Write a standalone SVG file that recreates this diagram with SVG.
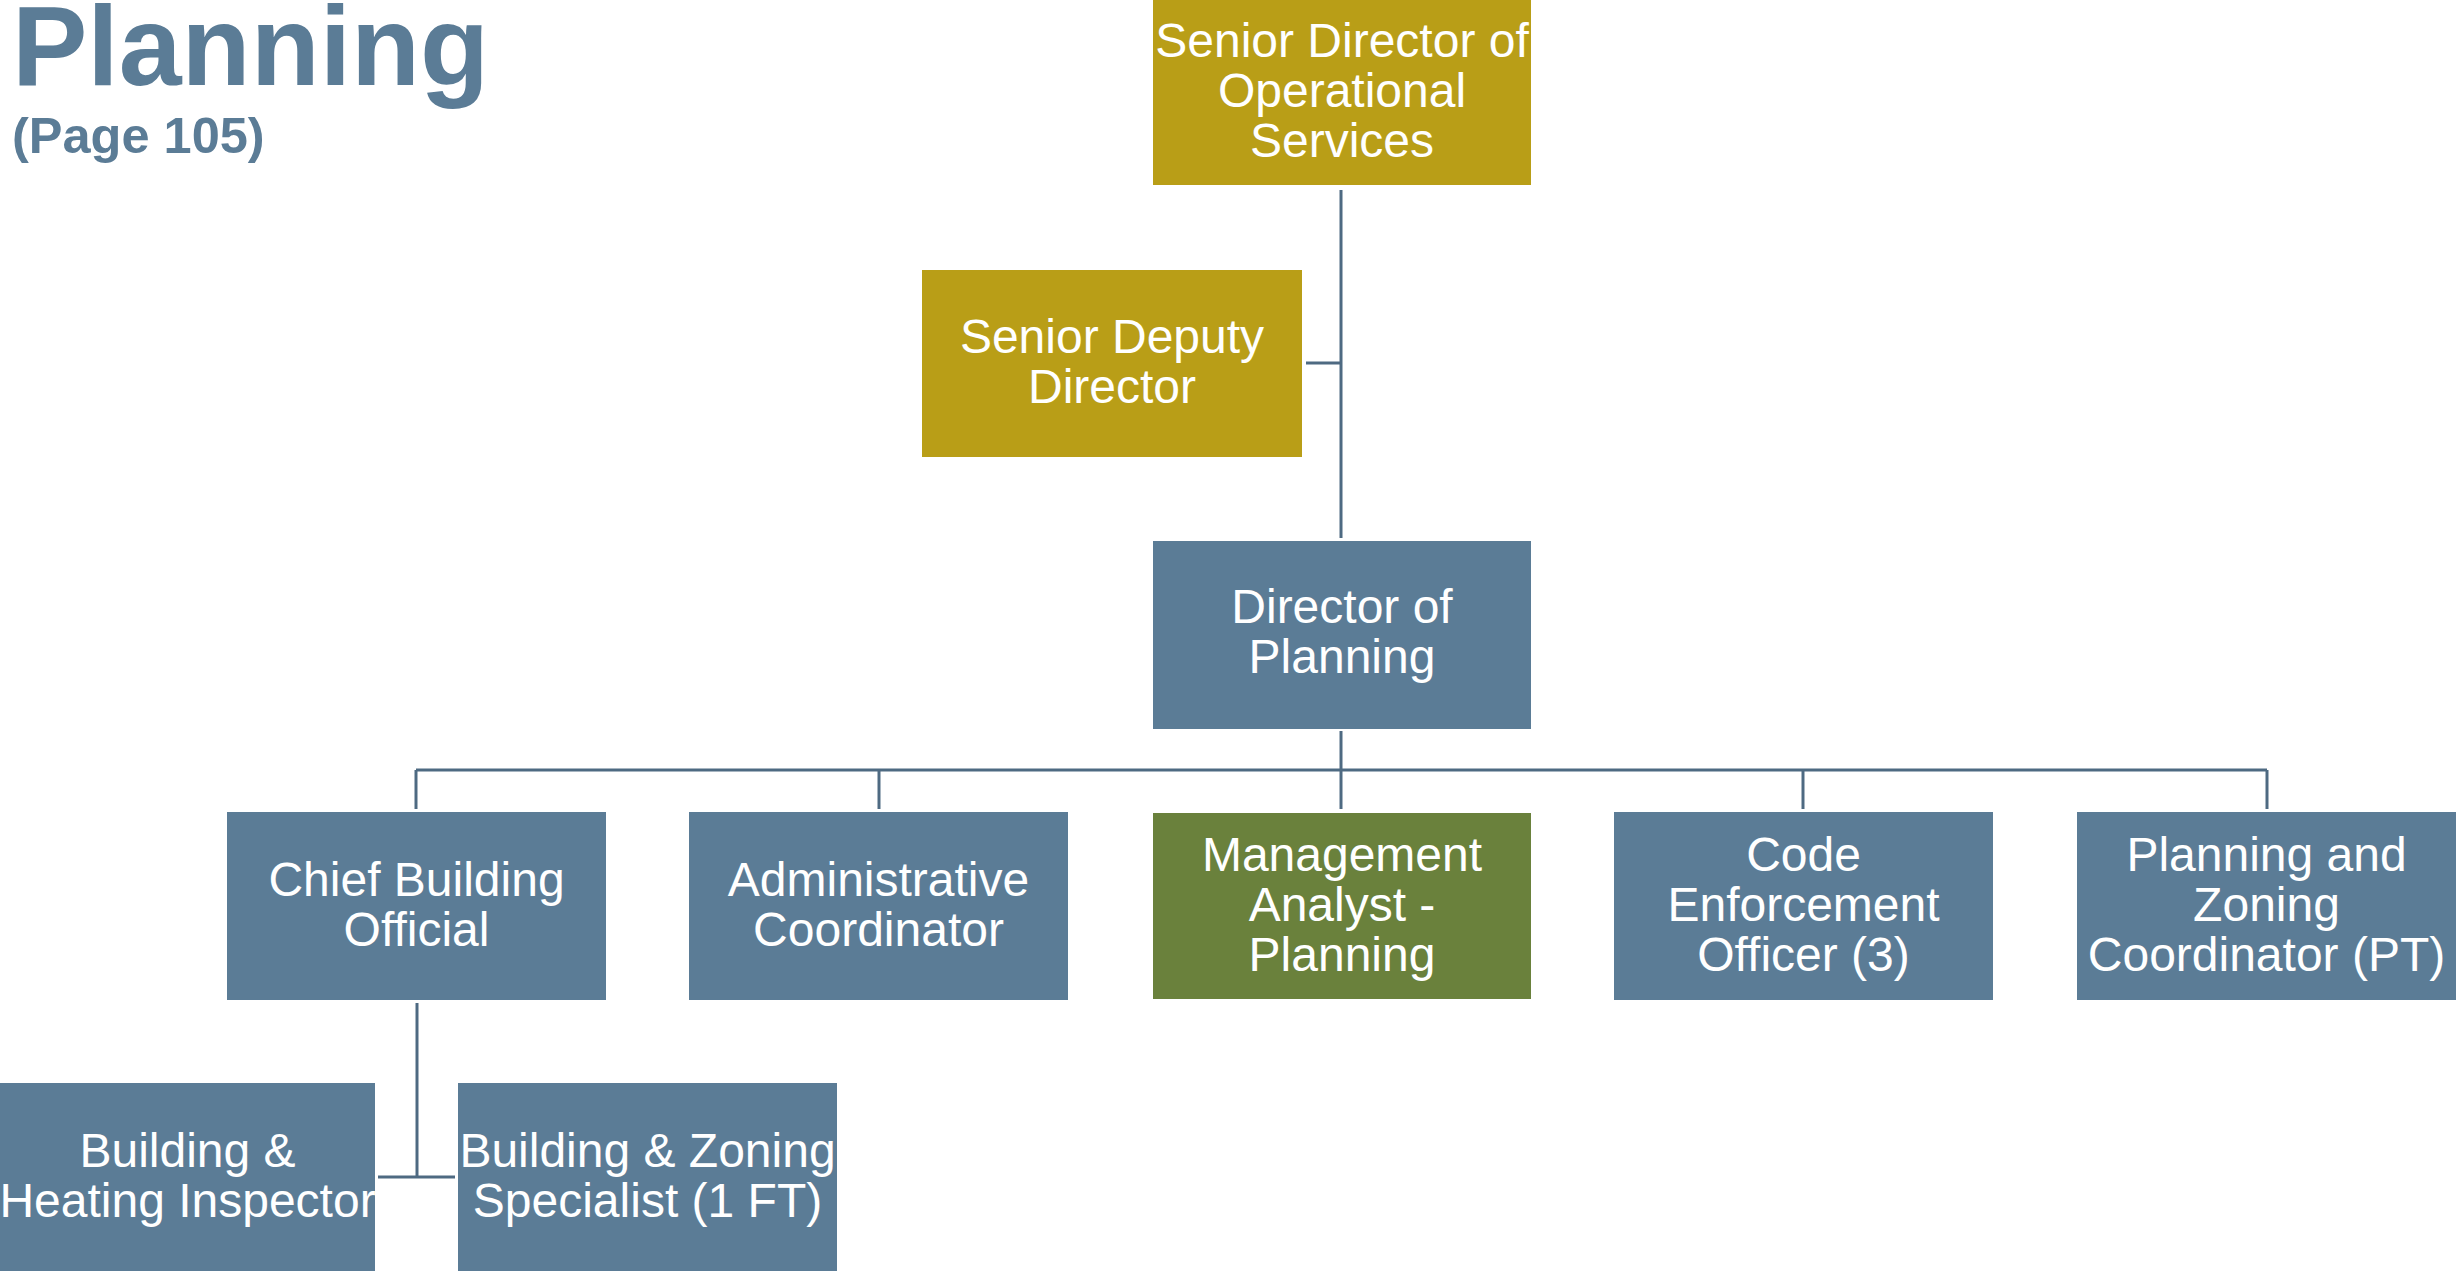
<svg xmlns="http://www.w3.org/2000/svg" width="2458" height="1274" viewBox="0 0 2458 1274">
<style>
.t{font-family:"Liberation Sans",Arial,sans-serif;font-size:48px;fill:#fff;text-anchor:middle}
.blue{fill:#5B7C96}
.gold{fill:#B99E17}
.green{fill:#6A813C}
.ttl{font-family:"Liberation Sans",Arial,sans-serif;font-weight:bold;fill:#5B7C96}
#connectors line{stroke:#4E6A82;stroke-width:3}
</style>
<rect width="2458" height="1274" fill="#fff"/>
<text class="ttl" x="12" y="85" font-size="113">Planning</text>
<text class="ttl" x="12" y="153" font-size="50.5">(Page 105)</text>
<g id="connectors">
<line x1="1341" y1="190" x2="1341" y2="538"/>
<line x1="1306" y1="363" x2="1341" y2="363"/>
<line x1="1341" y1="731" x2="1341" y2="770"/>
<line x1="416" y1="770" x2="2267" y2="770"/>
<line x1="416" y1="770" x2="416" y2="809"/>
<line x1="879" y1="770" x2="879" y2="809"/>
<line x1="1341" y1="770" x2="1341" y2="809"/>
<line x1="1803" y1="770" x2="1803" y2="809"/>
<line x1="2267" y1="770" x2="2267" y2="809"/>
<line x1="417" y1="1003" x2="417" y2="1177"/>
<line x1="378" y1="1177" x2="455" y2="1177"/>
</g>
<g id="n-senior-director"><rect class="gold" x="1153" y="0" width="378" height="185"/>
<text class="t" x="1342" y="57">Senior Director of</text><text class="t" x="1342" y="107">Operational</text><text class="t" x="1342" y="157">Services</text></g>
<g id="n-senior-deputy"><rect class="gold" x="922" y="270" width="380" height="187"/>
<text class="t" x="1112" y="353">Senior Deputy</text><text class="t" x="1112" y="403">Director</text></g>
<g id="n-director"><rect class="blue" x="1153" y="541" width="378" height="188"/>
<text class="t" x="1342" y="623">Director of</text><text class="t" x="1342" y="673">Planning</text></g>
<g id="n-chief"><rect class="blue" x="227" y="812" width="379" height="188"/>
<text class="t" x="416.5" y="896">Chief Building</text><text class="t" x="416.5" y="946">Official</text></g>
<g id="n-admin"><rect class="blue" x="689" y="812" width="379" height="188"/>
<text class="t" x="878.5" y="896">Administrative</text><text class="t" x="878.5" y="946">Coordinator</text></g>
<g id="n-mgmt"><rect class="green" x="1153" y="813" width="378" height="186"/>
<text class="t" x="1342" y="871">Management</text><text class="t" x="1342" y="921">Analyst -</text><text class="t" x="1342" y="971">Planning</text></g>
<g id="n-code"><rect class="blue" x="1614" y="812" width="379" height="188"/>
<text class="t" x="1803.5" y="871">Code</text><text class="t" x="1803.5" y="921">Enforcement</text><text class="t" x="1803.5" y="971">Officer (3)</text></g>
<g id="n-pz"><rect class="blue" x="2077" y="812" width="379" height="188"/>
<text class="t" x="2266.5" y="871">Planning and</text><text class="t" x="2266.5" y="921">Zoning</text><text class="t" x="2266.5" y="971">Coordinator (PT)</text></g>
<g id="n-inspector"><rect class="blue" x="0" y="1083" width="375" height="188"/>
<text class="t" x="187.5" y="1167">Building &amp;</text><text class="t" x="187.5" y="1217">Heating Inspector</text></g>
<g id="n-specialist"><rect class="blue" x="458" y="1083" width="379" height="188"/>
<text class="t" x="647.5" y="1167">Building &amp; Zoning</text><text class="t" x="647.5" y="1217">Specialist (1 FT)</text></g>
</svg>
